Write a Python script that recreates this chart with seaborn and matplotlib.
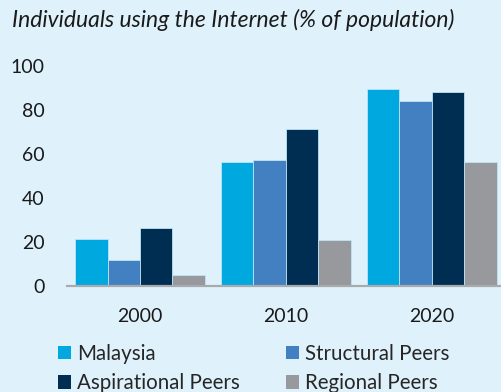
import matplotlib
matplotlib.use("Agg")
import matplotlib.pyplot as plt
from matplotlib.patches import Patch
import pandas as pd
import seaborn as sns

years = ["2000", "2010", "2020"]
groups = ["Malaysia", "Structural Peers", "Aspirational Peers", "Regional Peers"]
malaysia = [21.2, 56.3, 89.6]
structural = [11.5, 57.1, 84.1]
aspirational = [26.3, 71.2, 88.2]
regional = [5.0, 21.0, 56.3]
colors = ["#00A8E0", "#4380C2", "#002E52", "#98999D"]
yticks = [0, 20, 40, 60, 80, 100]

bg = "#DFF2FC"
series = [malaysia, structural, aspirational, regional]
df = pd.DataFrame(
    [(y, g, v) for g, vals in zip(groups, series) for y, v in zip(years, vals)],
    columns=["year", "group", "value"],
)

sns.set_theme(style="white")
plt.rcParams["font.family"] = ["Lato", "DejaVu Sans"]

fig = plt.figure(figsize=(5.02, 3.92), dpi=100, facecolor=bg)
ax = fig.add_axes([67 / 502, 1 - 285.7 / 392, 1 - 67 / 502, (285.7 - 66) / 392])
ax.set_facecolor(bg)

sns.barplot(
    data=df, x="year", y="value", hue="group", order=years, hue_order=groups,
    palette=colors, saturation=1, width=0.89, gap=0, dodge=True, ax=ax,
    edgecolor="#BFE3F5", linewidth=0.6, legend=False,
)

ax.set_xlim(-0.5, 2.48)
ax.set_ylim(0, 100)
ax.set_yticks(yticks)
ax.set_yticklabels([str(t) for t in yticks])
ax.set_xlabel("")
ax.set_ylabel("")
ax.tick_params(axis="y", length=0, pad=16, labelsize=14, labelcolor="#1a1a1a")
ax.tick_params(axis="x", length=0, pad=16, labelsize=14, labelcolor="#1a1a1a")
for s in ["top", "right", "left"]:
    ax.spines[s].set_visible(False)
ax.spines["bottom"].set_color("#A8AAAD")
ax.spines["bottom"].set_linewidth(1.6)
ax.spines["bottom"].set_zorder(5)

fig.text(12 / 502, 1 - 20 / 392, "Individuals using the Internet (% of population)",
         fontsize=16.5, style="italic", color="#1a1a1a", va="center", ha="left")

# two columns, filled column by column: Malaysia/Aspirational then Structural/Regional
order = [0, 2, 1, 3]
handles = [Patch(facecolor=colors[i], edgecolor="none") for i in order]
labels = [groups[i] for i in order]
fig.legend(
    handles, labels, loc="upper left", bbox_to_anchor=(58 / 502, 1 - 344 / 392),
    ncol=2, frameon=False, fontsize=14.8, handlelength=0.63, handleheight=0.63,
    handletextpad=0.3, columnspacing=2.25, labelspacing=0.45,
    borderpad=0, borderaxespad=0,
)

fig.savefig("out.png", dpi=100, facecolor=bg)
